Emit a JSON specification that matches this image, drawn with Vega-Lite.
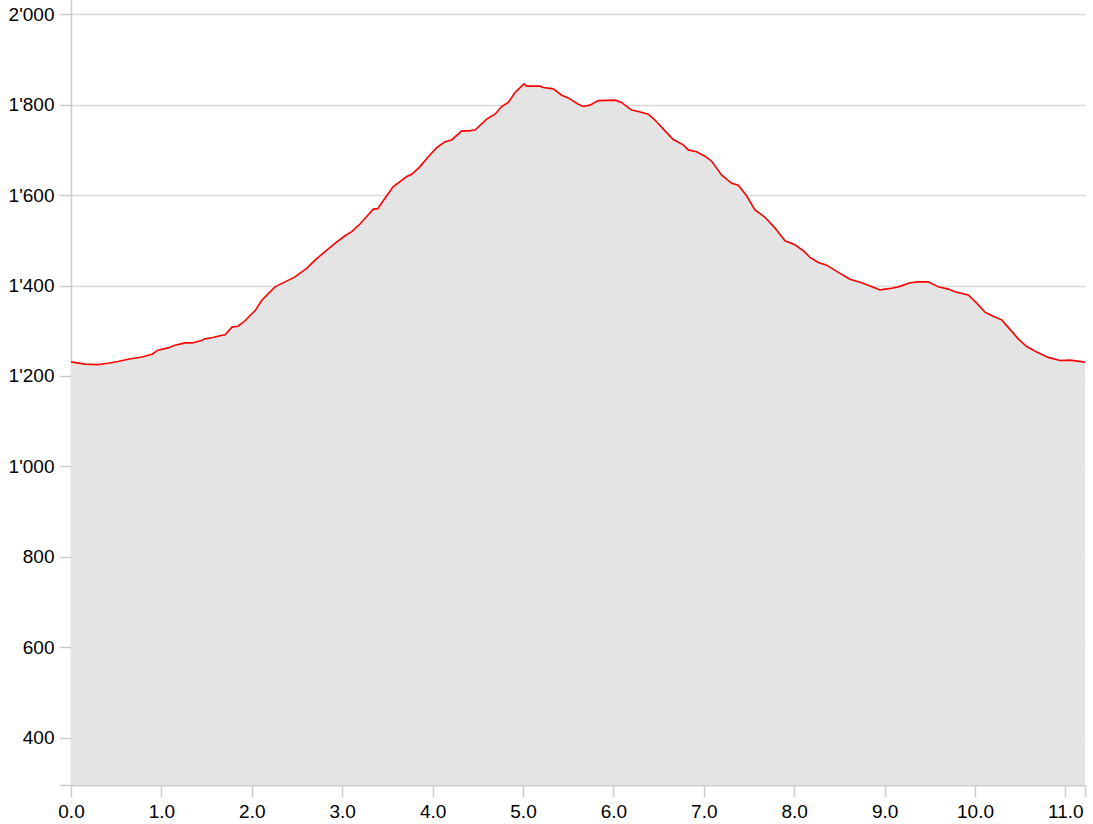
{
  "$schema": "https://vega.github.io/schema/vega-lite/v6.json",
  "width": 1014,
  "height": 785,
  "autosize": {"type": "none"},
  "padding": {"left": 71, "top": 0, "right": 8, "bottom": 39},
  "background": "white",
  "config": {
    "view": {"stroke": null},
    "axis": {
      "labelFont": "Liberation Sans",
      "labelFontSize": 19,
      "labelColor": "#000000",
      "domainColor": "#cccccc",
      "domainWidth": 1.5,
      "tickColor": "#cccccc",
      "tickWidth": 1.5,
      "tickSize": 12,
      "labelPadding": 5,
      "title": null
    }
  },
  "data": {
    "values": [
      {"km": 0.000, "ele": 1231}, {"km": 0.155, "ele": 1226}, {"km": 0.299, "ele": 1225},
      {"km": 0.409, "ele": 1228}, {"km": 0.520, "ele": 1232}, {"km": 0.631, "ele": 1237},
      {"km": 0.785, "ele": 1242}, {"km": 0.896, "ele": 1248}, {"km": 0.962, "ele": 1257},
      {"km": 1.073, "ele": 1262}, {"km": 1.150, "ele": 1268}, {"km": 1.261, "ele": 1273},
      {"km": 1.338, "ele": 1273}, {"km": 1.427, "ele": 1277}, {"km": 1.482, "ele": 1282},
      {"km": 1.571, "ele": 1285}, {"km": 1.670, "ele": 1290}, {"km": 1.704, "ele": 1291},
      {"km": 1.781, "ele": 1308}, {"km": 1.847, "ele": 1310}, {"km": 1.925, "ele": 1322},
      {"km": 2.002, "ele": 1338}, {"km": 2.035, "ele": 1344}, {"km": 2.113, "ele": 1368},
      {"km": 2.257, "ele": 1397}, {"km": 2.367, "ele": 1408}, {"km": 2.478, "ele": 1419},
      {"km": 2.607, "ele": 1438}, {"km": 2.699, "ele": 1456}, {"km": 2.810, "ele": 1475},
      {"km": 2.920, "ele": 1493}, {"km": 3.031, "ele": 1510}, {"km": 3.105, "ele": 1519},
      {"km": 3.197, "ele": 1536}, {"km": 3.308, "ele": 1561}, {"km": 3.344, "ele": 1569},
      {"km": 3.393, "ele": 1570}, {"km": 3.473, "ele": 1593}, {"km": 3.565, "ele": 1619},
      {"km": 3.639, "ele": 1630}, {"km": 3.714, "ele": 1641}, {"km": 3.769, "ele": 1646},
      {"km": 3.861, "ele": 1663}, {"km": 3.952, "ele": 1685}, {"km": 4.045, "ele": 1705},
      {"km": 4.137, "ele": 1718}, {"km": 4.211, "ele": 1722}, {"km": 4.322, "ele": 1742},
      {"km": 4.395, "ele": 1742}, {"km": 4.469, "ele": 1744}, {"km": 4.598, "ele": 1768},
      {"km": 4.690, "ele": 1779}, {"km": 4.764, "ele": 1796}, {"km": 4.837, "ele": 1805},
      {"km": 4.912, "ele": 1827}, {"km": 5.011, "ele": 1846}, {"km": 5.041, "ele": 1841},
      {"km": 5.188, "ele": 1841}, {"km": 5.225, "ele": 1838}, {"km": 5.335, "ele": 1835},
      {"km": 5.428, "ele": 1821}, {"km": 5.501, "ele": 1815}, {"km": 5.612, "ele": 1801},
      {"km": 5.667, "ele": 1796}, {"km": 5.741, "ele": 1799}, {"km": 5.833, "ele": 1809},
      {"km": 6.018, "ele": 1810}, {"km": 6.092, "ele": 1805}, {"km": 6.110, "ele": 1802},
      {"km": 6.202, "ele": 1788}, {"km": 6.276, "ele": 1785}, {"km": 6.386, "ele": 1779},
      {"km": 6.460, "ele": 1766}, {"km": 6.571, "ele": 1742}, {"km": 6.663, "ele": 1723},
      {"km": 6.773, "ele": 1711}, {"km": 6.829, "ele": 1700}, {"km": 6.921, "ele": 1696},
      {"km": 7.013, "ele": 1686}, {"km": 7.087, "ele": 1675}, {"km": 7.198, "ele": 1644},
      {"km": 7.309, "ele": 1626}, {"km": 7.382, "ele": 1622}, {"km": 7.475, "ele": 1598},
      {"km": 7.566, "ele": 1567}, {"km": 7.677, "ele": 1551}, {"km": 7.788, "ele": 1527},
      {"km": 7.898, "ele": 1499}, {"km": 8.009, "ele": 1490}, {"km": 8.112, "ele": 1475},
      {"km": 8.175, "ele": 1462}, {"km": 8.267, "ele": 1451}, {"km": 8.360, "ele": 1445},
      {"km": 8.488, "ele": 1429}, {"km": 8.617, "ele": 1414}, {"km": 8.747, "ele": 1406},
      {"km": 8.875, "ele": 1396}, {"km": 8.949, "ele": 1390}, {"km": 9.004, "ele": 1392},
      {"km": 9.079, "ele": 1394}, {"km": 9.152, "ele": 1397}, {"km": 9.281, "ele": 1406},
      {"km": 9.373, "ele": 1408}, {"km": 9.483, "ele": 1408}, {"km": 9.594, "ele": 1397},
      {"km": 9.705, "ele": 1392}, {"km": 9.779, "ele": 1386}, {"km": 9.926, "ele": 1379},
      {"km": 10.019, "ele": 1361}, {"km": 10.111, "ele": 1341}, {"km": 10.202, "ele": 1332},
      {"km": 10.295, "ele": 1324}, {"km": 10.387, "ele": 1303}, {"km": 10.479, "ele": 1282},
      {"km": 10.572, "ele": 1265}, {"km": 10.683, "ele": 1253}, {"km": 10.811, "ele": 1241},
      {"km": 10.940, "ele": 1234}, {"km": 11.051, "ele": 1235}, {"km": 11.198, "ele": 1231},
      {"km": 11.217, "ele": 1230}
    ]
  },
  "mark": {
    "type": "area",
    "color": "#e4e4e4",
    "opacity": 1,
    "fillOpacity": 1,
    "clip": true,
    "line": {"color": "#ff0000", "strokeWidth": 1.6}
  },
  "encoding": {
    "x": {
      "field": "km",
      "type": "quantitative",
      "scale": {"domain": [0, 11.217], "nice": false, "zero": false},
      "axis": {
        "values": [0, 1, 2, 3, 4, 5, 6, 7, 8, 9, 10, 11, 11.217],
        "labelExpr": "datum.value > 11.1 ? '' : format(datum.value, '.1f')",
        "grid": false,
        "labelFlush": false,
        "labelOverlap": false
      }
    },
    "y": {
      "field": "ele",
      "type": "quantitative",
      "scale": {"domain": [295, 2031.6], "nice": false, "zero": false},
      "axis": {
        "values": [295, 400, 600, 800, 1000, 1200, 1400, 1600, 1800, 2000],
        "labelExpr": "datum.value < 300 ? '' : replace(format(datum.value, ','), ',', \"'\")",
        "grid": true,
        "gridColor": "#d9d9d9",
        "gridWidth": 1.5,
        "labelFlush": false,
        "labelOverlap": false
      }
    }
  }
}
